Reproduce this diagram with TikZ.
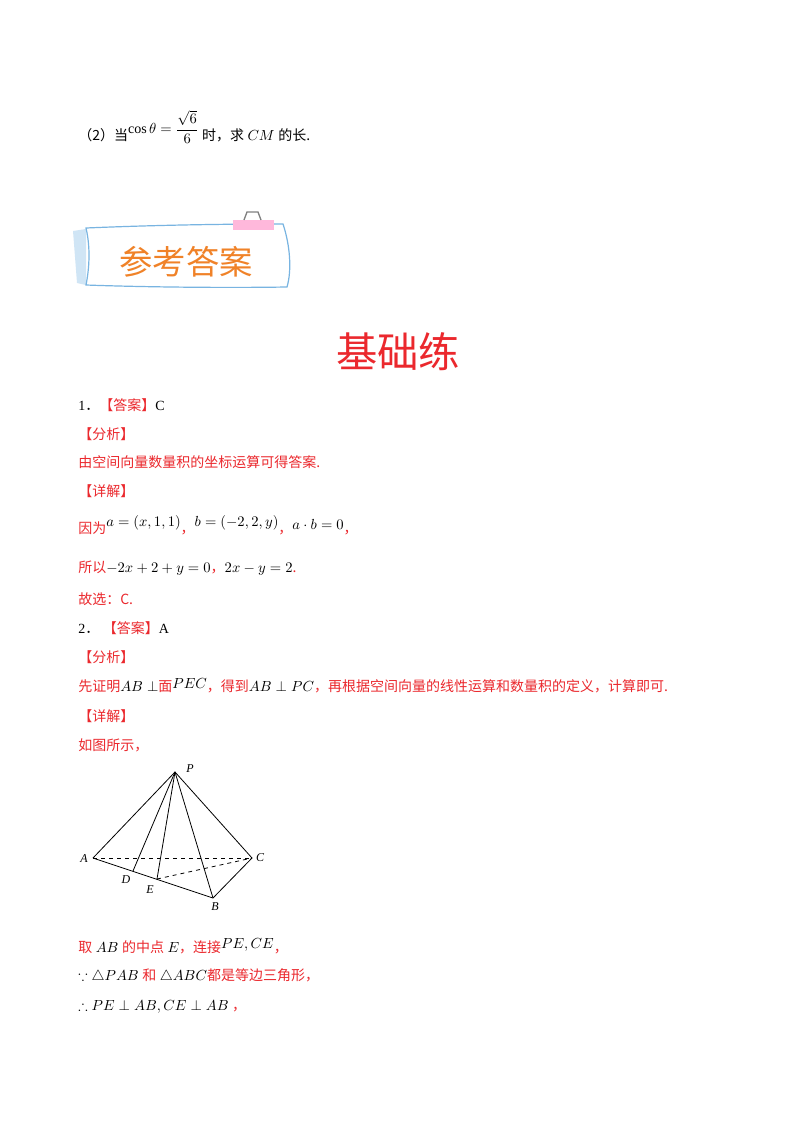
\documentclass[tikz,border=0pt]{standalone}
\usepackage{amssymb}
\usepackage{fontspec}
\setmainfont{Liberation Serif}
\newfontfamily\cjk{Noto Sans CJK SC}
\definecolor{rd}{RGB}{235,40,45}
\definecolor{og}{RGB}{240,130,40}
\definecolor{pb}{RGB}{120,180,225}
\begin{document}
\begin{tikzpicture}[x=0.75pt,y=-0.75pt,
  t/.style={anchor=west,inner sep=0pt,font=\fontsize{10.5}{12}\selectfont},
  r/.style={t,text=rd},
  edge/.style={line width=0.6pt},
  hid/.style={line width=0.6pt,dashed},
  lab/.style={font=\itshape\fontsize{9}{10}\selectfont,inner sep=1pt}]
\useasboundingbox (0,0) rectangle (800,1132);
\fill[white] (0,0) rectangle (800,1132);
\node[t] (q2) at (78,127) {{\cjk （2）当}\raisebox{5pt}{$\displaystyle\cos\theta=\frac{\sqrt6}{6}$}\ {\cjk 时，求} $CM$ {\cjk 的长.}};
% banner
\fill[pb!35] (73,231) -- (86,229) -- (86,285) -- (77,283) -- cycle;
\draw[pb,line width=0.9pt,fill=white] (86,228) .. controls (180,224) and (260,224) .. (283,224) .. controls (290,245) and (292,270) .. (287,287) .. controls (220,288) and (140,287) .. (86,285) .. controls (90,265) and (90,245) .. (86,228) -- cycle;
\fill[pink!80!magenta!70] (233,220) rectangle (274,230);
\draw[gray,line width=1pt] (244,220) -- (247,212) -- (258,212) -- (261,220);
\node[inner sep=0pt,text=og,font=\cjk\fontsize{25}{27}\selectfont] (ban) at (186,262) {参考答案};
\node[inner sep=0pt,text=rd,font=\cjk\fontsize{31}{33}\selectfont] (ttl) at (398,352) {基础练};
\node[t] (l1) at (78,405) {1{\cjk ．}{\cjk\color{rd}【答案】}C};
\node[r] (l2) at (78,434) {\cjk 【分析】};
\node[r] (l3) at (78,462) {\cjk 由空间向量数量积的坐标运算可得答案.};
\node[r] (l4) at (78,491) {\cjk 【详解】};
\node[r] (l5) at (78,525) {{\cjk 因为}\raisebox{5pt}{\color{black}$a=(x,1,1)$}{\cjk ，}\raisebox{5pt}{\color{black}$b=(-2,2,y)$}{\cjk ，}\raisebox{3pt}{\color{black}$a\cdot b=0$}{\cjk ，}};
\node[r] (l6) at (78,568) {{\cjk 所以}{\color{black}$-2x+2+y=0$}{\cjk ，}{\color{black}$2x-y=2$}{\cjk .}};
\node[r] (l7) at (78,599) {\cjk 故选：C.};
\node[t] (l8) at (78,628) {2{\cjk ．}\ {\cjk\color{rd}【答案】}A};
\node[r] (l9) at (78,657) {\cjk 【分析】};
\node[r] (l10) at (78,686) {{\cjk 先证明}{\color{black}$AB\perp$}{\cjk 面}\raisebox{2pt}{\color{black}$PEC$}{\cjk ，得到}{\color{black}$AB\perp PC$}{\cjk ，再根据空间向量的线性运算和数量积的定义，计算即可.}};
\node[r] (l11) at (78,716) {\cjk 【详解】};
\node[r] (l12) at (78,745) {\cjk 如图所示，};
% figure
\coordinate (P) at (175,772);
\coordinate (A) at (93,858);
\coordinate (C) at (252,858);
\coordinate (B) at (213,898);
\coordinate (D) at (133,871);
\coordinate (E) at (157,879);
\draw[edge] (A) -- (P) -- (C) -- (B) -- (A);
\draw[edge] (P) -- (B); \draw[edge] (P) -- (D); \draw[edge] (P) -- (E);
\draw[hid] (A) -- (C); \draw[hid] (E) -- (C);
\node[lab] (lP) at (190,769) {P};
\node[lab] (lA) at (84,859) {A};
\node[lab] (lC) at (260,858) {C};
\node[lab] (lB) at (215,907) {B};
\node[lab] (lD) at (126,880) {D};
\node[lab] (lE) at (150,890) {E};
\node[r] (l13) at (78,946) {{\cjk 取}\ {\color{black}$AB$}\ {\cjk 的中点}\ {\color{black}$E$}{\cjk ，连接}\raisebox{3pt}{\color{black}$PE,CE$}{\cjk ，}};
\node[r] (l14) at (78,976) {{\color{black}$\because\triangle PAB$}\ {\cjk 和}\ {\color{black}$\triangle ABC$}{\cjk 都是等边三角形，}};
\node[r] (l15) at (78,1007) {{\color{black}$\therefore PE\perp AB,CE\perp AB$}\ {\cjk ，}};
\end{tikzpicture}
\end{document}
